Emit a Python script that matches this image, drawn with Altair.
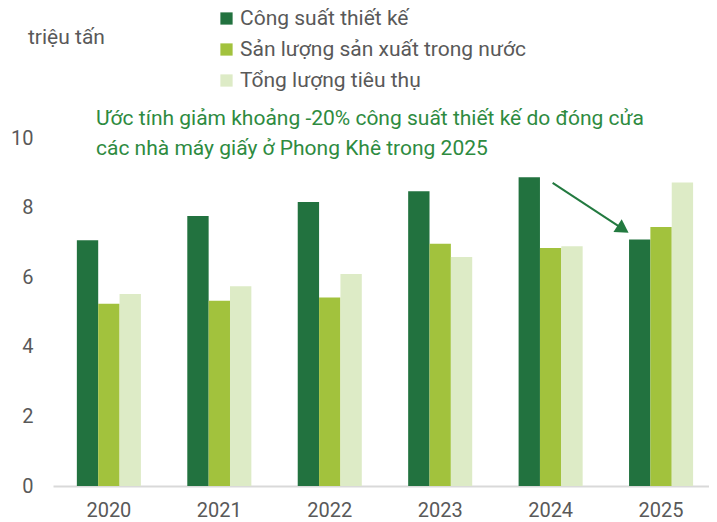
import altair as alt
import pandas as pd

years = ["2020", "2021", "2022", "2023", "2024", "2025"]
series = ["Công suất thiết kế", "Sản lượng sản xuất trong nước", "Tổng lượng tiêu thụ"]
capacity = [7.06, 7.76, 8.16, 8.47, 8.87, 7.08]
production = [5.24, 5.32, 5.42, 6.96, 6.84, 7.44]
consumption = [5.52, 5.74, 6.09, 6.58, 6.89, 8.72]
colors = ["#22723F", "#A2C23D", "#DDEBC6"]

y_title = "triệu tấn"
note_lines = ["Ước tính giảm khoảng -20% công suất thiết kế do đóng cửa",
              "các nhà máy giấy ở Phong Khê trong 2025"]
arrow_from = ("2024", 8.71)
arrow_to = ("2025", 7.44)
arrow_head = ("2025", 7.38)

FONT = "Roboto"
GRAY = "#595959"

rows = []
for s, vals in zip(series, [capacity, production, consumption]):
    for yr, v in zip(years, vals):
        rows.append({"year": yr, "series": s, "value": v})
df = pd.DataFrame(rows)

xscale = alt.Scale(domain=years, paddingInner=0.42, paddingOuter=0.18, align=0.6)
yscale = alt.Scale(domain=[0, 10])

bars = alt.Chart(df).mark_bar().encode(
    x=alt.X("year:N", scale=xscale, sort=years,
            axis=alt.Axis(title=None, labelAngle=0, ticks=False, domainColor="#D9D9D9",
                          domainWidth=2, labelFontSize=20, labelColor=GRAY, labelFont=FONT,
                          labelPadding=14)),
    xOffset=alt.XOffset("series:N", sort=series, scale=alt.Scale(paddingInner=0, paddingOuter=0)),
    y=alt.Y("value:Q", scale=yscale,
            axis=alt.Axis(title=None, values=[0, 2, 4, 6, 8, 10], domain=False, ticks=False,
                          grid=False, labelFontSize=20, labelColor=GRAY, labelFont=FONT,
                          labelPadding=20)),
    color=alt.Color("series:N", sort=series, scale=alt.Scale(domain=series, range=colors),
                    legend=alt.Legend(title=None, orient="none", legendX=163, legendY=-130,
                                      symbolType="square", symbolSize=150, symbolStrokeWidth=0,
                                      labelFontSize=21, labelColor=GRAY, labelFont=FONT,
                                      labelLimit=500, rowPadding=9, labelOffset=3,
                                      direction="vertical")),
)

arrow_df = pd.DataFrame([{"x": arrow_from[0], "y": arrow_from[1],
                          "x2": arrow_to[0], "y2": arrow_to[1]}])
arrow = alt.Chart(arrow_df).mark_rule(color="#237A40", strokeWidth=2, xOffset=2, x2Offset=-41).encode(
    x=alt.X("x:N", scale=xscale, sort=years), x2="x2:N",
    y=alt.Y("y:Q", scale=yscale), y2="y2:Q")

head_df = pd.DataFrame([{"x": arrow_head[0], "y": arrow_head[1]}])
head = alt.Chart(head_df).mark_point(shape="triangle-up", filled=True, opacity=1, size=230,
                                    angle=123, color="#237A40", xOffset=-38).encode(
    x=alt.X("x:N", scale=xscale, sort=years), y=alt.Y("y:Q", scale=yscale))

note = alt.Chart(pd.DataFrame([{"a": 1}])).mark_text(
    align="left", baseline="middle", lineHeight=30, fontSize=21, font=FONT, color="#2E8B3F"
).encode(x=alt.value(43), y=alt.value(-19), text=alt.value(note_lines))

ytitle = alt.Chart(pd.DataFrame([{"a": 1}])).mark_text(
    align="left", baseline="middle", fontSize=21, font=FONT, color=GRAY
).encode(x=alt.value(-25), y=alt.value(-100), text=alt.value(y_title))

chart = alt.layer(bars, arrow, head, note, ytitle).properties(
    width=656, height=348,
    autosize=alt.AutoSizeParams(type="none"),
    padding={"left": 45, "top": 130, "right": 0, "bottom": 36},
).configure_view(stroke=None)

chart.save("out.html", embed_options={"renderer": "svg", "actions": False})
